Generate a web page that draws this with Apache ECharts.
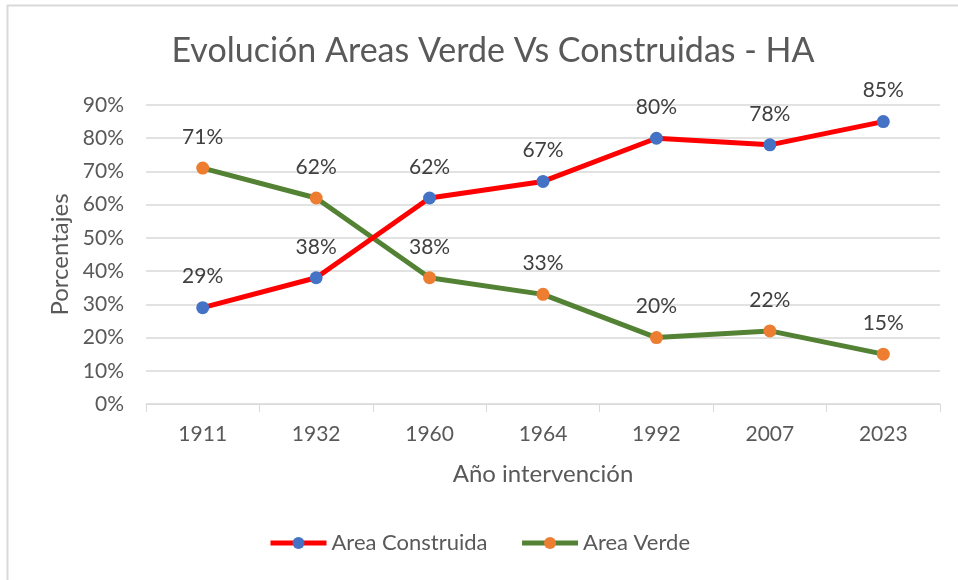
<!DOCTYPE html>
<html>
<head>
<meta charset="utf-8">
<script src="https://cdn.jsdelivr.net/npm/echarts@6/dist/echarts.min.js"></script>
<style>
  html, body { margin: 0; padding: 0; background: #fff; }
  #chart { width: 958px; height: 580px; }
</style>
</head>
<body>
<div id="chart"></div>
<script>
const years = ['1911', '1932', '1960', '1964', '1992', '2007', '2023']
const areaConstruida = [29, 38, 62, 67, 80, 78, 85]
const areaVerde = [71, 62, 38, 33, 20, 22, 15]

const font = 'Lato, "Open Sans", sans-serif'
const textGrey = '#595959'

const chart = echarts.init(document.getElementById('chart'))

const makeSeries = (name, data, lineColor, dotColor) => ({
  name,
  type: 'line',
  data,
  symbol: 'circle',
  symbolSize: 13,
  lineStyle: { width: 5, color: lineColor },
  itemStyle: { color: dotColor },
  label: {
    show: true,
    position: 'top',
    distance: 14,
    formatter: p => p.value + '%',
    color: '#404040',
    fontFamily: font,
    fontSize: 21
  },
  z: name === 'Area Verde' ? 2 : 3
})

chart.setOption({
  animation: false,
  textStyle: { fontFamily: font },
  graphic: [
    { type: 'rect', shape: { x: 7.5, y: 5.5, width: 1000, height: 1000 },
      style: { fill: 'none', stroke: '#d9d9d9', lineWidth: 2 }, silent: true }
  ],
  title: {
    text: 'Evolución Areas Verde Vs Construidas - HA',
    left: 488,
    textAlign: 'center',
    top: 29,
    textStyle: { fontFamily: font, fontSize: 34, fontWeight: 'normal', color: textGrey }
  },
  legend: {
    bottom: 21,
    left: 'center',
    itemWidth: 56,
    itemHeight: 15,
    itemGap: 32,
    lineStyle: { width: 5 },
    textStyle: { fontFamily: font, fontSize: 22, color: textGrey },
    data: ['Area Construida', 'Area Verde']
  },
  grid: { left: 146, right: 18, top: 105, bottom: 176 },
  xAxis: {
    type: 'category',
    data: years,
    name: 'Año intervención',
    nameLocation: 'middle',
    nameGap: 58,
    nameTextStyle: { fontFamily: font, fontSize: 24, color: textGrey },
    axisLine: { lineStyle: { color: '#d9d9d9', width: 1 } },
    axisTick: { show: true, length: 8, lineStyle: { color: '#d9d9d9' } },
    axisLabel: { color: textGrey, fontSize: 21, fontFamily: font, margin: 20 }
  },
  yAxis: {
    type: 'value',
    min: 0,
    max: 90,
    interval: 10,
    name: 'Porcentajes',
    nameLocation: 'middle',
    nameGap: 74,
    nameTextStyle: { fontFamily: font, fontSize: 24, color: textGrey },
    axisLine: { show: false },
    axisTick: { show: false },
    axisLabel: { color: textGrey, fontSize: 21, fontFamily: font, margin: 22, formatter: '{value}%' },
    splitLine: { lineStyle: { color: '#d9d9d9', width: 1.5 } }
  },
  series: [
    makeSeries('Area Construida', areaConstruida, '#FF0000', '#4472C4'),
    makeSeries('Area Verde', areaVerde, '#548235', '#ED7D31')
  ]
})
</script>
</body>
</html>
